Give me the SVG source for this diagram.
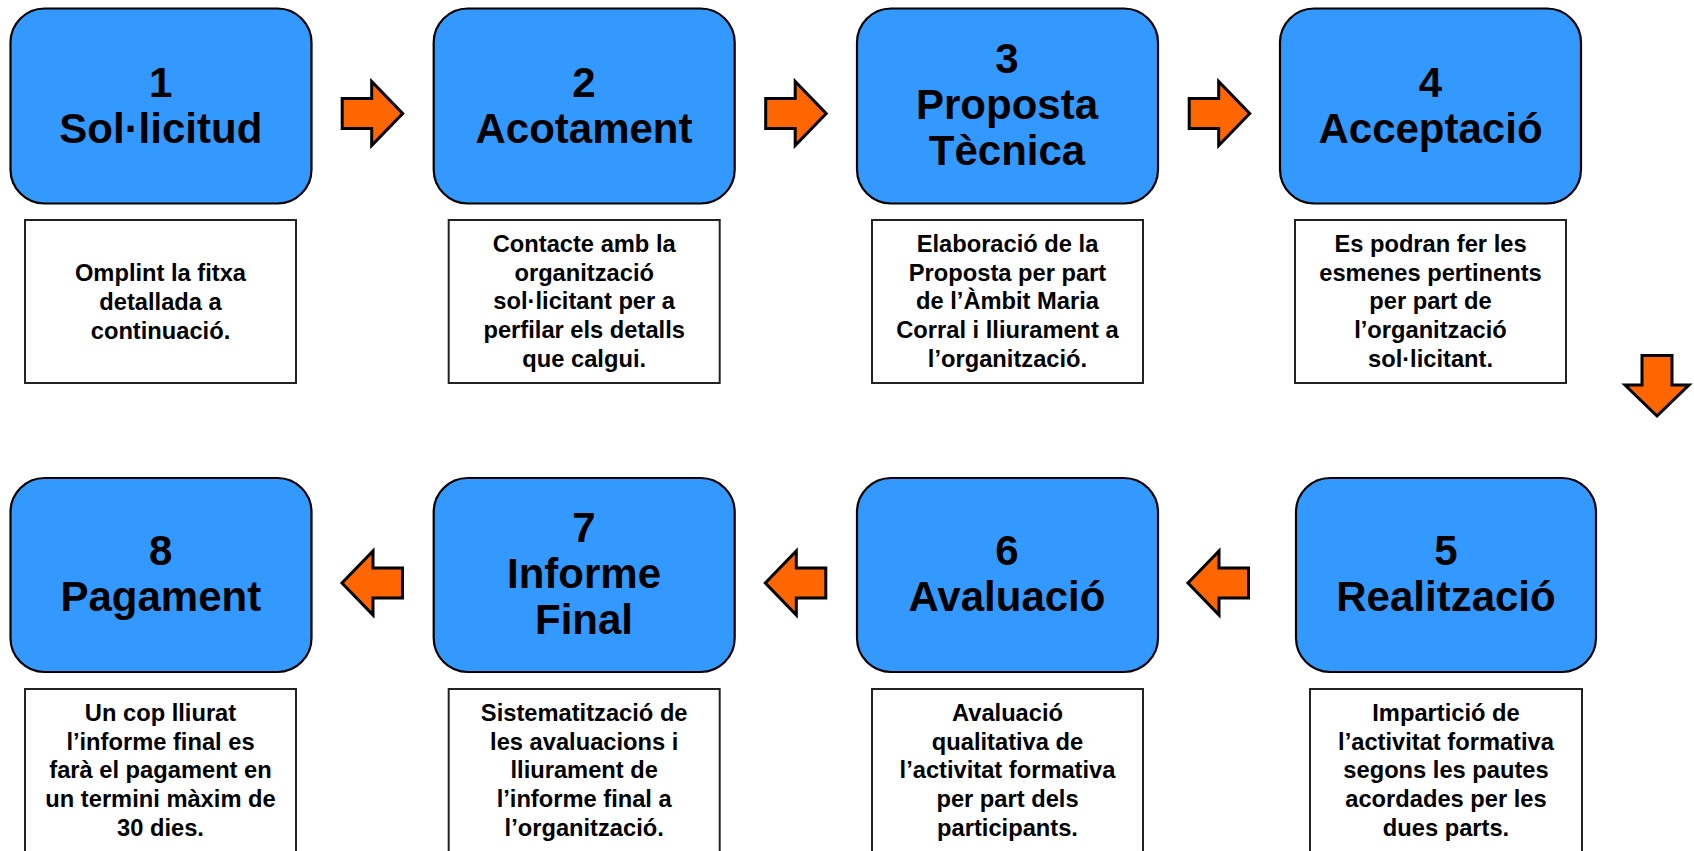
<svg xmlns="http://www.w3.org/2000/svg" xmlns:xlink="http://www.w3.org/1999/xlink" width="1694" height="851" viewBox="0 0 1694 851">
<style>
.step{fill:#3399FF;stroke:#000;stroke-width:2.2}
.desc{fill:#fff;stroke:#222;stroke-width:2}
.t{font-family:"Liberation Sans",Arial,Helvetica,sans-serif;font-weight:bold;font-size:42px;fill:#000;text-anchor:middle}
.d{font-family:"Liberation Sans",Arial,Helvetica,sans-serif;font-weight:bold;font-size:23.7px;fill:#000;text-anchor:middle}
.arr{fill:#FF6600;stroke:#000;stroke-width:3;stroke-linejoin:miter}
</style>
<defs>
<path id="arrowR" d="M0,-15 H29.5 V-32 L60.5,0 L29.5,32 V15 H0 Z"/>
</defs>
<rect width="1694" height="851" fill="#fff"/>

<g id="node1">
<rect class="step" x="10.5" y="8.5" width="301" height="195" rx="34"/>
<text class="t" x="160.8" y="97">1</text>
<text class="t" x="160.8" y="143">Sol·licitud</text>
<rect class="desc" x="25" y="220" width="271" height="163"/>
<text class="d" x="160.5" y="281">Omplint la fitxa</text>
<text class="d" x="160.5" y="310">detallada a</text>
<text class="d" x="160.5" y="339">continuació.</text>
</g>

<g id="node2">
<rect class="step" x="433.7" y="8.5" width="301" height="195" rx="34"/>
<text class="t" x="584" y="97">2</text>
<text class="t" x="584" y="143">Acotament</text>
<rect class="desc" x="448.7" y="220" width="271" height="163"/>
<text class="d" x="584.2" y="252">Contacte amb la</text>
<text class="d" x="584.2" y="280.7">organització</text>
<text class="d" x="584.2" y="309.4">sol·licitant per a</text>
<text class="d" x="584.2" y="338.1">perfilar els detalls</text>
<text class="d" x="584.2" y="366.8">que calgui.</text>
</g>

<g id="node3">
<rect class="step" x="857" y="8.5" width="301" height="195" rx="34"/>
<text class="t" x="1007" y="73">3</text>
<text class="t" x="1007" y="119">Proposta</text>
<text class="t" x="1007" y="165">Tècnica</text>
<rect class="desc" x="872" y="220" width="271" height="163"/>
<text class="d" x="1007.5" y="252">Elaboració de la</text>
<text class="d" x="1007.5" y="280.7">Proposta per part</text>
<text class="d" x="1007.5" y="309.4">de l’Àmbit Maria</text>
<text class="d" x="1007.5" y="338.1">Corral i lliurament a</text>
<text class="d" x="1007.5" y="366.8">l’organització.</text>
</g>

<g id="node4">
<rect class="step" x="1280" y="8.5" width="301" height="195" rx="34"/>
<text class="t" x="1430.5" y="97">4</text>
<text class="t" x="1430.5" y="143">Acceptació</text>
<rect class="desc" x="1295" y="220" width="271" height="163"/>
<text class="d" x="1430.5" y="252">Es podran fer les</text>
<text class="d" x="1430.5" y="280.7">esmenes pertinents</text>
<text class="d" x="1430.5" y="309.4">per part de</text>
<text class="d" x="1430.5" y="338.1">l’organització</text>
<text class="d" x="1430.5" y="366.8">sol·licitant.</text>
</g>

<g id="node5">
<rect class="step" x="1296" y="478" width="300" height="194" rx="34"/>
<text class="t" x="1446" y="565">5</text>
<text class="t" x="1446" y="611">Realització</text>
<rect class="desc" x="1310" y="689" width="272" height="163"/>
<text class="d" x="1446" y="721">Impartició de</text>
<text class="d" x="1446" y="749.7">l’activitat formativa</text>
<text class="d" x="1446" y="778.4">segons les pautes</text>
<text class="d" x="1446" y="807.1">acordades per les</text>
<text class="d" x="1446" y="835.8">dues parts.</text>
</g>

<g id="node6">
<rect class="step" x="857" y="478" width="301" height="194" rx="34"/>
<text class="t" x="1007" y="565">6</text>
<text class="t" x="1007" y="611">Avaluació</text>
<rect class="desc" x="872" y="689" width="271" height="163"/>
<text class="d" x="1007.5" y="721">Avaluació</text>
<text class="d" x="1007.5" y="749.7">qualitativa de</text>
<text class="d" x="1007.5" y="778.4">l’activitat formativa</text>
<text class="d" x="1007.5" y="807.1">per part dels</text>
<text class="d" x="1007.5" y="835.8">participants.</text>
</g>

<g id="node7">
<rect class="step" x="433.7" y="478" width="301" height="194" rx="34"/>
<text class="t" x="584" y="542">7</text>
<text class="t" x="584" y="588">Informe</text>
<text class="t" x="584" y="634">Final</text>
<rect class="desc" x="448.7" y="689" width="271" height="163"/>
<text class="d" x="584.2" y="721">Sistematització de</text>
<text class="d" x="584.2" y="749.7">les avaluacions i</text>
<text class="d" x="584.2" y="778.4">lliurament de</text>
<text class="d" x="584.2" y="807.1">l’informe final a</text>
<text class="d" x="584.2" y="835.8">l’organització.</text>
</g>

<g id="node8">
<rect class="step" x="10.5" y="478" width="301" height="194" rx="34"/>
<text class="t" x="160.8" y="565">8</text>
<text class="t" x="160.8" y="611">Pagament</text>
<rect class="desc" x="25" y="689" width="271" height="163"/>
<text class="d" x="160.5" y="721">Un cop lliurat</text>
<text class="d" x="160.5" y="749.7">l’informe final es</text>
<text class="d" x="160.5" y="778.4">farà el pagament en</text>
<text class="d" x="160.5" y="807.1">un termini màxim de</text>
<text class="d" x="160.5" y="835.8">30 dies.</text>
</g>

<g id="connectors">
<use xlink:href="#arrowR" class="arr" transform="translate(342.2,113.5)"/>
<use xlink:href="#arrowR" class="arr" transform="translate(765.7,113.5)"/>
<use xlink:href="#arrowR" class="arr" transform="translate(1189.2,113.5)"/>
<use xlink:href="#arrowR" class="arr" transform="translate(1657,355.5) rotate(90)"/>
<use xlink:href="#arrowR" class="arr" transform="translate(1248.5,583) scale(-1,1)"/>
<use xlink:href="#arrowR" class="arr" transform="translate(825.8,583) scale(-1,1)"/>
<use xlink:href="#arrowR" class="arr" transform="translate(402.5,583) scale(-1,1)"/>
</g>
</svg>
